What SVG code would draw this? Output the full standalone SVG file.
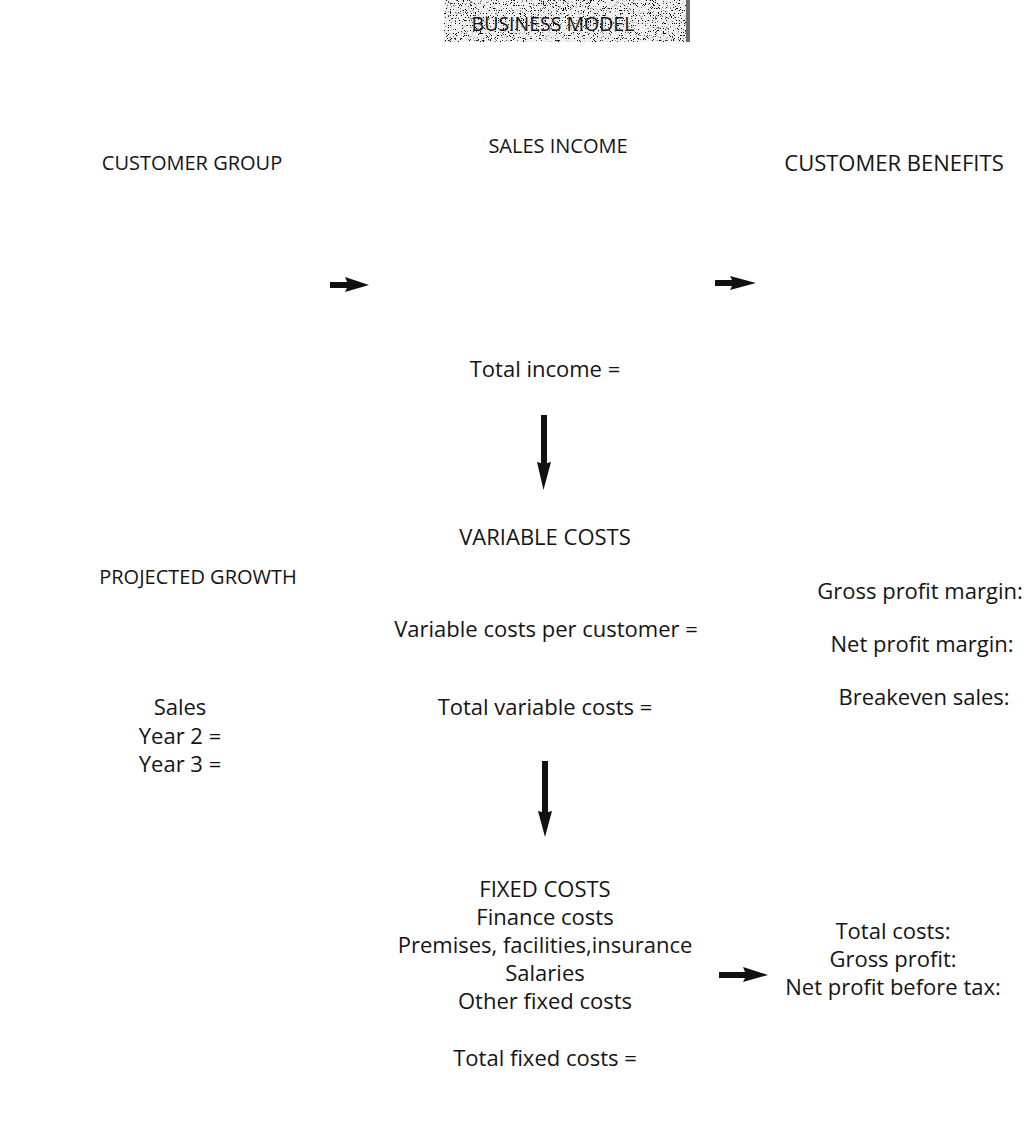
<svg xmlns="http://www.w3.org/2000/svg" width="1032" height="1144" viewBox="0 0 1032 1144">
<defs>
<style>
text{font-family:"Open Sans","Liberation Sans",sans-serif;font-size:22px;fill:#141414;text-anchor:middle}
.head{font-size:20px}
.arrow{fill:#111;stroke:none}
</style>
<filter id="stipple" x="0" y="0" width="100%" height="100%">
<feTurbulence type="fractalNoise" baseFrequency="1.4" numOctaves="1" seed="11" result="n"/>
<feColorMatrix in="n" type="matrix" values="0 0 0 0 0  0 0 0 0 0  0 0 0 0 0  12 0 0 0 -7.2" result="dots"/>
<feComposite in="dots" in2="SourceGraphic" operator="in"/>
</filter>
<linearGradient id="edge" x1="0" x2="1" y1="0" y2="0">
<stop offset="0" stop-color="#8a8a8a"/>
<stop offset="0.9" stop-color="#9a9a9a"/>
<stop offset="1" stop-color="#555"/>
</linearGradient>
</defs>
<rect width="1032" height="1144" fill="#fff"/>
<g id="header">
<rect x="444" y="0" width="246" height="42" fill="#f0f0f0"/>
<rect x="444" y="0" width="246" height="42" fill="url(#edge)" filter="url(#stipple)"/>
<rect x="686" y="0" width="4" height="42" fill="#6a6a6a"/>
<text x="553" y="31" style="font-size:19.5px">BUSINESS MODEL</text>
</g>
<g id="customer-group"><text class="head" x="192" y="170">CUSTOMER GROUP</text></g>
<g id="sales-income">
<text class="head" x="558" y="153">SALES INCOME</text>
<text x="545" y="377">Total income =</text>
</g>
<g id="customer-benefits"><text x="894" y="171">CUSTOMER BENEFITS</text></g>
<g id="variable-costs">
<text x="545" y="545">VARIABLE COSTS</text>
<text x="546" y="637">Variable costs per customer =</text>
<text x="545" y="715">Total variable costs =</text>
</g>
<g id="projected-growth">
<text class="head" x="198" y="584">PROJECTED GROWTH</text>
<text x="180" y="715">Sales</text>
<text x="180" y="744">Year 2 =</text>
<text x="180" y="772">Year 3 =</text>
</g>
<g id="margins">
<text x="920" y="599">Gross profit margin:</text>
<text x="922" y="652">Net profit margin:</text>
<text x="924" y="705">Breakeven sales:</text>
</g>
<g id="fixed-costs">
<text x="545" y="897">FIXED COSTS</text>
<text x="545" y="925">Finance costs</text>
<text x="545" y="953">Premises, facilities,insurance</text>
<text x="545" y="981">Salaries</text>
<text x="545" y="1009">Other fixed costs</text>
<text x="545" y="1066">Total fixed costs =</text>
</g>
<g id="totals">
<text x="893" y="939">Total costs:</text>
<text x="893" y="967">Gross profit:</text>
<text x="893" y="995">Net profit before tax:</text>
</g>
<g id="connectors">
<path class="arrow" d="M330,282 L347,282 L345,277 L369,285 L345,292 L347,288 L330,288 Z"/>
<path class="arrow" d="M715,280 L732,280 L730,276 L756,283 L730,290 L732,286 L715,286 Z"/>
<path class="arrow" d="M541,415 L547,415 L547,463 L551,462 L543.5,490 L537,462 L541,463 Z"/>
<path class="arrow" d="M542,761 L548,761 L548,812 L552,811 L545,837 L538,811 L542,812 Z"/>
<path class="arrow" d="M719,972 L745,972 L743,967 L768,975 L743,982 L745,978 L719,978 Z"/>
</g>
</svg>
